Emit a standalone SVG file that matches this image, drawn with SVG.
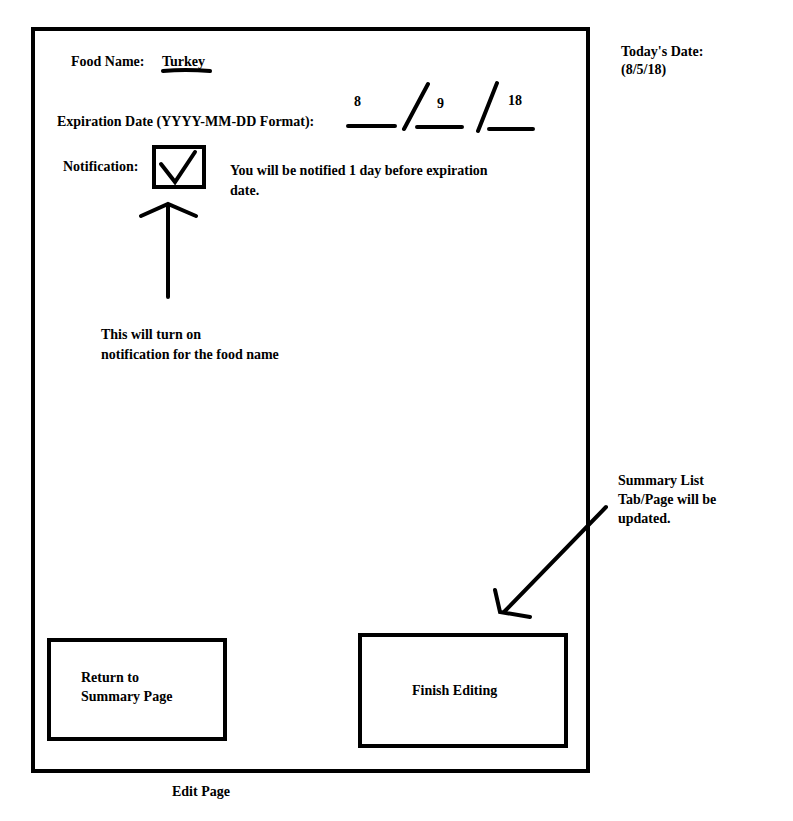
<svg xmlns="http://www.w3.org/2000/svg" width="793" height="821" viewBox="0 0 793 821">
<style>
text{font-family:"Liberation Serif",serif;font-size:14px;font-weight:bold;fill:#000}
.s{fill:none;stroke:#000;stroke-width:4;stroke-linecap:round}
</style>
<rect width="793" height="821" fill="#fff"/>
<g id="page"><rect x="33" y="29" width="555" height="742" class="s" stroke-linecap="butt"/></g>
<g id="labels">
<text x="71" y="66">Food Name:</text>
<text x="162" y="66">Turkey</text>
<text x="57" y="126">Expiration Date (YYYY-MM-DD Format):</text>
<text x="354" y="106">8</text>
<text x="437" y="108">9</text>
<text x="508" y="105">18</text>
<text x="63" y="171">Notification:</text>
<text x="230" y="175">You will be notified 1 day before expiration</text>
<text x="230" y="195">date.</text>
<text x="101" y="339">This will turn on</text>
<text x="101" y="359">notification  for the food name</text>
<text x="621" y="56">Today's Date:</text>
<text x="621" y="74">(8/5/18)</text>
<text x="618" y="485">Summary List</text>
<text x="618" y="504">Tab/Page will be</text>
<text x="618" y="523">updated.</text>
<text x="172" y="796">Edit Page</text>
</g>
<g id="date-fields">
<path class="s" d="M163 71 Q185 69 210 71 M348 126H395 M404 129L428 84 M417 127H462 M478 131L497 83 M489 129H533"/>
</g>
<g id="checkbox"><rect x="154" y="147" width="50" height="40" class="s" stroke-linecap="butt"/><path class="s" d="M161 164L175 182L195 152"/></g>
<g id="btn-return"><rect x="49" y="640" width="176" height="99" class="s" stroke-linecap="butt"/><text x="81" y="682">Return to</text><text x="81" y="701">Summary Page</text></g>
<g id="btn-finish"><rect x="360" y="635" width="206" height="111" class="s" stroke-linecap="butt"/><text x="412" y="695">Finish Editing</text></g>
<g id="connectors">
<path class="s" d="M168 297V205 M141 216L168 204L196 216"/>
<path class="s" d="M606 507L504 612 M495 590L500 612L530 617"/>
</g>
</svg>
